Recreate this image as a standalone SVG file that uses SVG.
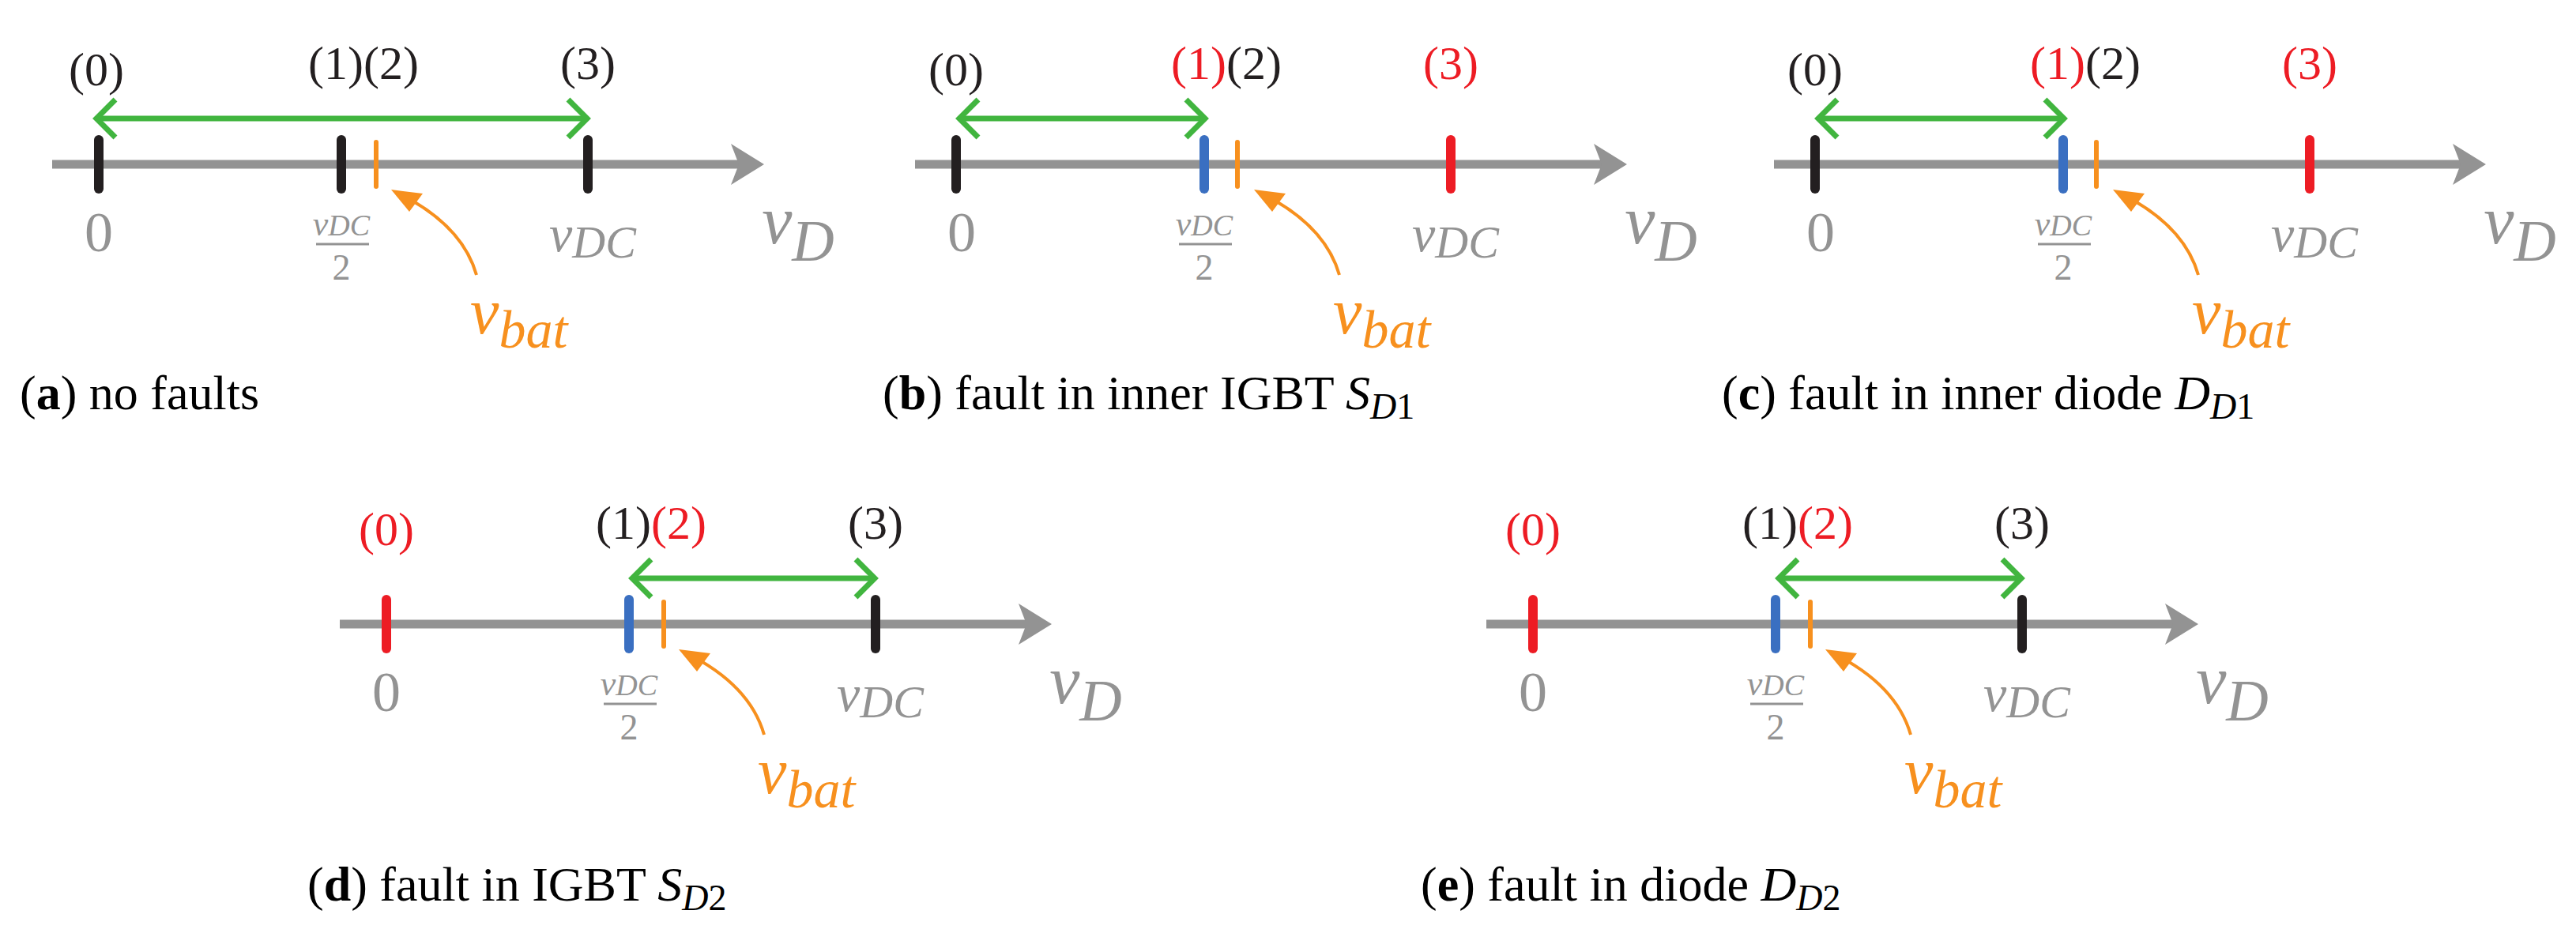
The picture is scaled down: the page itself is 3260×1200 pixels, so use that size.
<svg xmlns="http://www.w3.org/2000/svg" width="3260" height="1200" viewBox="0 0 3260 1200">
<style>
.ax{stroke:#939393;stroke-width:11;fill:none}
.tk{stroke-width:12;stroke-linecap:round}
.k{stroke:#231f20}.r{stroke:#ed1c24}.b{stroke:#3a6fc1}
.o{stroke:#f7901e;stroke-width:6;stroke-linecap:round}
.g{stroke:#41b53f;stroke-width:7;fill:none}
.lbl{font-family:"Liberation Serif",serif;font-size:60px;text-anchor:middle}
.gr{fill:#939393;font-family:"Liberation Serif",serif;text-anchor:middle}
.m{font-style:italic}
.cap{font-family:"Liberation Serif",serif;font-size:62px;fill:#000}
.tr{fill:#ed1c24}.tb{fill:#231f20}
.va{fill:#f7901e;font-family:"Liberation Serif",serif;font-style:italic}
</style>
<defs>
<g id="base">
<line class="ax" x1="66" y1="208" x2="940" y2="208"/>
<polygon points="967,208 925,182 935,208 925,234" fill="#939393"/>
<text class="gr" x="125" y="318" font-size="72">0</text>
<text class="gr m" x="432" y="298" font-size="44">v<tspan font-size="38">DC</tspan></text>
<line x1="400" y1="309" x2="467" y2="309" stroke="#939393" stroke-width="3"/>
<text class="gr" x="432" y="354" font-size="46">2</text>
<text class="gr m" x="750" y="318" font-size="66">v<tspan font-size="58" dy="8">DC</tspan></text>
<text class="gr m" x="1010" y="308" font-size="86">v<tspan font-size="74" dy="22">D</tspan></text>
<path d="M603,348 Q585,285 505,245" fill="none" stroke="#f7901e" stroke-width="4"/>
<polygon points="495,240 535,245 518,268" fill="#f7901e"/>
<text class="va" x="595" y="422" font-size="82">v<tspan font-size="68" dy="18">bat</tspan></text>
</g>
</defs>
<g id="panel-a">
<use href="#base"/>
<g class="g"><line x1="122" y1="150" x2="740" y2="150"/><polyline points="146,126 122,150 146,174"/><polyline points="719,126 743,150 719,174"/></g>
<line class="tk k" x1="125" y1="177" x2="125" y2="239"/><line class="tk k" x1="432" y1="177" x2="432" y2="239"/><line class="tk k" x1="744" y1="177" x2="744" y2="239"/>
<line class="o" x1="476" y1="180" x2="476" y2="236"/>
<text class="lbl tb" x="122" y="108">(0)</text><text class="lbl tb" x="460" y="100">(1)(2)</text><text class="lbl tb" x="744" y="100">(3)</text>
<text class="cap" x="25" y="518">(<tspan font-weight="bold">a</tspan>) no faults</text>
</g>
<g id="panel-b" transform="translate(1092,0)">
<use href="#base"/>
<g class="g"><line x1="122" y1="150" x2="430" y2="150"/><polyline points="146,126 122,150 146,174"/><polyline points="409,126 433,150 409,174"/></g>
<line class="tk k" x1="118" y1="177" x2="118" y2="239"/><line class="tk b" x1="432" y1="177" x2="432" y2="239"/><line class="tk r" x1="744" y1="177" x2="744" y2="239"/>
<line class="o" x1="474" y1="180" x2="474" y2="236"/>
<text class="lbl tb" x="118" y="108">(0)</text><text class="lbl" x="460" y="100"><tspan class="tr">(1)</tspan><tspan class="tb">(2)</tspan></text><text class="lbl tr" x="744" y="100">(3)</text>
<text class="cap" x="25" y="518">(<tspan font-weight="bold">b</tspan>) fault in inner IGBT <tspan font-style="italic">S</tspan><tspan font-size="46" dy="12"><tspan font-style="italic">D</tspan>1</tspan></text>
</g>
<g id="panel-c" transform="translate(2179,0)">
<use href="#base"/>
<g class="g"><line x1="122" y1="150" x2="430" y2="150"/><polyline points="146,126 122,150 146,174"/><polyline points="409,126 433,150 409,174"/></g>
<line class="tk k" x1="118" y1="177" x2="118" y2="239"/><line class="tk b" x1="432" y1="177" x2="432" y2="239"/><line class="tk r" x1="744" y1="177" x2="744" y2="239"/>
<line class="o" x1="474" y1="180" x2="474" y2="236"/>
<text class="lbl tb" x="118" y="108">(0)</text><text class="lbl" x="460" y="100"><tspan class="tr">(1)</tspan><tspan class="tb">(2)</tspan></text><text class="lbl tr" x="744" y="100">(3)</text>
<text class="cap" x="0" y="518">(<tspan font-weight="bold">c</tspan>) fault in inner diode <tspan font-style="italic">D</tspan><tspan font-size="46" dy="12"><tspan font-style="italic">D</tspan>1</tspan></text>
</g>
<g id="panel-d" transform="translate(364,582)">
<use href="#base"/>
<g class="g"><line x1="436" y1="150" x2="740" y2="150"/><polyline points="460,126 436,150 460,174"/><polyline points="719,126 743,150 719,174"/></g>
<line class="tk r" x1="125" y1="177" x2="125" y2="239"/><line class="tk b" x1="432" y1="177" x2="432" y2="239"/><line class="tk k" x1="744" y1="177" x2="744" y2="239"/>
<line class="o" x1="476" y1="180" x2="476" y2="236"/>
<text class="lbl tr" x="125" y="108">(0)</text><text class="lbl" x="460" y="100"><tspan class="tb">(1)</tspan><tspan class="tr">(2)</tspan></text><text class="lbl tb" x="744" y="100">(3)</text>
<text class="cap" x="25" y="558">(<tspan font-weight="bold">d</tspan>) fault in IGBT <tspan font-style="italic">S</tspan><tspan font-size="46" dy="12"><tspan font-style="italic">D</tspan>2</tspan></text>
</g>
<g id="panel-e" transform="translate(1815,582)">
<use href="#base"/>
<g class="g"><line x1="436" y1="150" x2="740" y2="150"/><polyline points="460,126 436,150 460,174"/><polyline points="719,126 743,150 719,174"/></g>
<line class="tk r" x1="125" y1="177" x2="125" y2="239"/><line class="tk b" x1="432" y1="177" x2="432" y2="239"/><line class="tk k" x1="744" y1="177" x2="744" y2="239"/>
<line class="o" x1="476" y1="180" x2="476" y2="236"/>
<text class="lbl tr" x="125" y="108">(0)</text><text class="lbl" x="460" y="100"><tspan class="tb">(1)</tspan><tspan class="tr">(2)</tspan></text><text class="lbl tb" x="744" y="100">(3)</text>
<text class="cap" x="-17" y="558">(<tspan font-weight="bold">e</tspan>) fault in diode <tspan font-style="italic">D</tspan><tspan font-size="46" dy="12"><tspan font-style="italic">D</tspan>2</tspan></text>
</g>
</svg>
